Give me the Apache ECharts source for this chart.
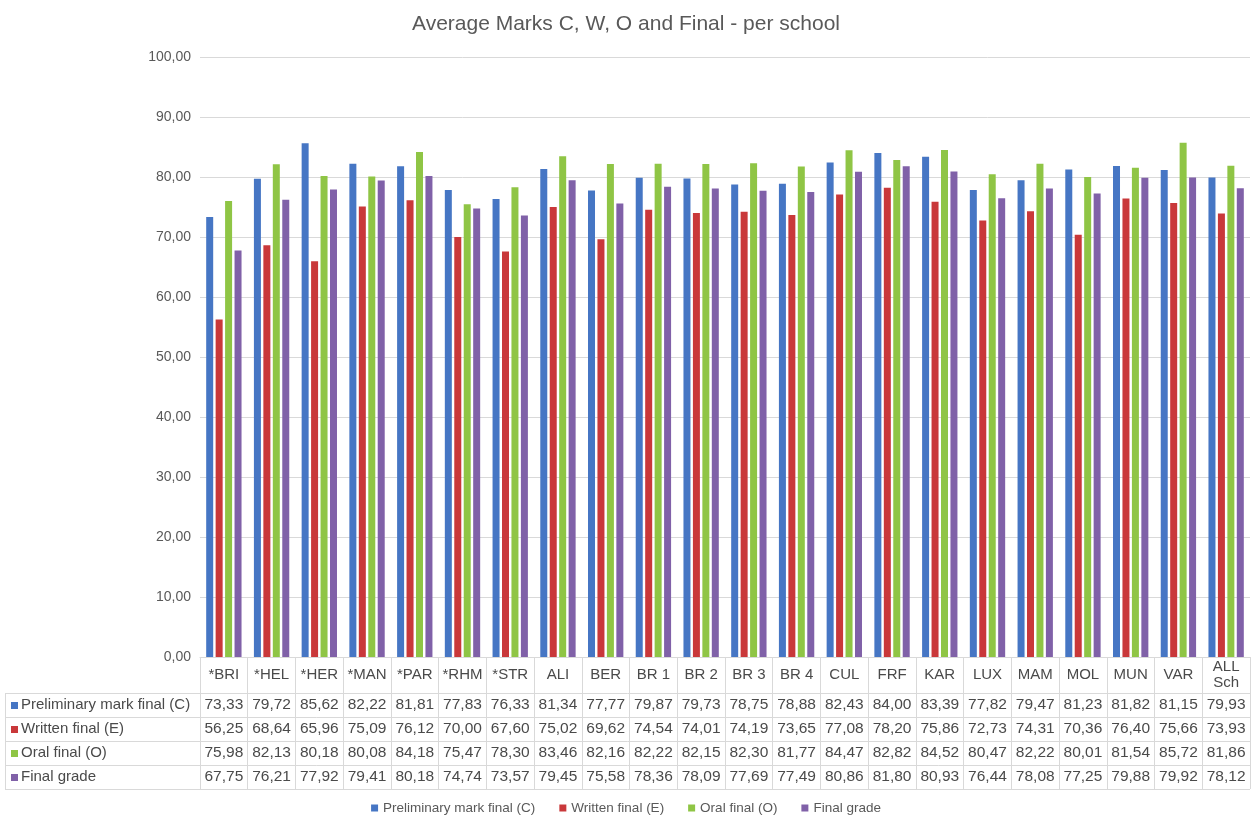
<!DOCTYPE html>
<html><head><meta charset="utf-8">
<script src="https://cdn.jsdelivr.net/npm/echarts@6/dist/echarts.min.js"></script>
<style>html,body{margin:0;padding:0;background:#fff}#c{width:1252px;height:820px}</style>
</head><body><div id="c"></div>
<script>
const categories = ['*BRI','*HEL','*HER','*MAN','*PAR','*RHM','*STR','ALI','BER','BR 1','BR 2','BR 3','BR 4','CUL','FRF','KAR','LUX','MAM','MOL','MUN','VAR','ALL\nSch'];
const seriesNames = ['Preliminary mark final (C)','Written final (E)','Oral final (O)','Final grade'];
const prelim = [73.33,79.72,85.62,82.22,81.81,77.83,76.33,81.34,77.77,79.87,79.73,78.75,78.88,82.43,84.00,83.39,77.82,79.47,81.23,81.82,81.15,79.93];
const written = [56.25,68.64,65.96,75.09,76.12,70.00,67.60,75.02,69.62,74.54,74.01,74.19,73.65,77.08,78.20,75.86,72.73,74.31,70.36,76.40,75.66,73.93];
const oral = [75.98,82.13,80.18,80.08,84.18,75.47,78.30,83.46,82.16,82.22,82.15,82.30,81.77,84.47,82.82,84.52,80.47,82.22,80.01,81.54,85.72,81.86];
const finalGrade = [67.75,76.21,77.92,79.41,80.18,74.74,73.57,79.45,75.58,78.36,78.09,77.69,77.49,80.86,81.80,80.93,76.44,78.08,77.25,79.88,79.92,78.12];
const yTicks = [0,10,20,30,40,50,60,70,80,90,100];

const colors = ['#4676c4','#c9383a','#8fc545','#8061a8'];
const allSeries = [prelim, written, oral, finalGrade];
const fmt = v => v.toFixed(2).replace('.', ',');

const G_LEFT = 200, G_RIGHT = 2, G_TOP = 57, G_BOTTOM_Y = 657;
const ROW_H = 24, HEAD_H = 36;
const lineColor = '#d9d9d9', textColor = '#4a4a4a';
const FF = 'Liberation Sans, Arial';

const xAxes = [{
  type: 'category', data: categories, position: 'bottom',
  axisLine: {lineStyle: {color: lineColor}},
  axisTick: {show: true, interval: 0, length: HEAD_H + ROW_H * 4, lineStyle: {color: lineColor}},
  axisLabel: {interval: 0, color: textColor, fontSize: 15, fontFamily: FF, margin: 18, verticalAlign: 'middle', lineHeight: 16},
  splitLine: {show: false}
}];
allSeries.forEach((arr, i) => {
  xAxes.push({
    type: 'category', data: arr.map(fmt), position: 'bottom', gridIndex: 0,
    offset: HEAD_H + ROW_H * i + ROW_H / 2,
    axisLine: {show: false}, axisTick: {show: false},
    axisLabel: {interval: 0, color: textColor, fontSize: 15.5, fontFamily: FF, margin: 0, verticalAlign: 'middle'}
  });
});

const graphics = [];
for (let r = 0; r <= 4; r++) {
  const y = G_BOTTOM_Y + HEAD_H + ROW_H * r + 0.5;
  graphics.push({type: 'line', shape: {x1: 5, y1: y, x2: 1252 - G_RIGHT, y2: y}, style: {stroke: lineColor, lineWidth: 1}});
}
graphics.push({type: 'line', shape: {x1: 5.5, y1: G_BOTTOM_Y + HEAD_H, x2: 5.5, y2: G_BOTTOM_Y + HEAD_H + ROW_H * 4}, style: {stroke: lineColor, lineWidth: 1}});
seriesNames.forEach((n, i) => {
  const cy = G_BOTTOM_Y + HEAD_H + ROW_H * i + ROW_H / 2;
  graphics.push({type: 'rect', shape: {x: 11, y: cy - 3, width: 7, height: 7}, style: {fill: colors[i]}});
  graphics.push({type: 'text', x: 21, y: cy, style: {text: n, fill: textColor, font: '15px "Liberation Sans", Arial', textVerticalAlign: 'middle'}});
});

const option = {
  animation: false,
  backgroundColor: '#fff',
  color: colors,
  title: {text: 'Average Marks C, W, O and Final - per school', left: 'center', top: 9,
    textStyle: {color: '#595959', fontSize: 21, fontWeight: 'normal', fontFamily: FF}},
  legend: {data: seriesNames, bottom: 0, left: 'center', itemWidth: 7, itemHeight: 7, itemGap: 24, icon: 'rect',
    textStyle: {color: '#595959', fontSize: 13.5, fontFamily: FF}},
  grid: {left: G_LEFT, right: G_RIGHT, top: G_TOP, bottom: 820 - G_BOTTOM_Y, containLabel: false},
  xAxis: xAxes,
  yAxis: {type: 'value', min: 0, max: 100, interval: 10,
    axisLine: {show: false}, axisTick: {show: false},
    axisLabel: {color: '#595959', fontSize: 14, fontFamily: FF, margin: 9,
      formatter: v => yTicks.includes(v) ? fmt(v) : ''},
    splitLine: {lineStyle: {color: lineColor}}},
  series: allSeries.map((arr, i) => ({
    name: seriesNames[i], type: 'bar', data: arr, xAxisIndex: 0,
    barWidth: 7, barGap: '35%', itemStyle: {color: colors[i]}
  })),
  graphic: graphics
};
const chart = echarts.init(document.getElementById('c'), null, {renderer: 'canvas'});
chart.setOption(option);
</script></body></html>
